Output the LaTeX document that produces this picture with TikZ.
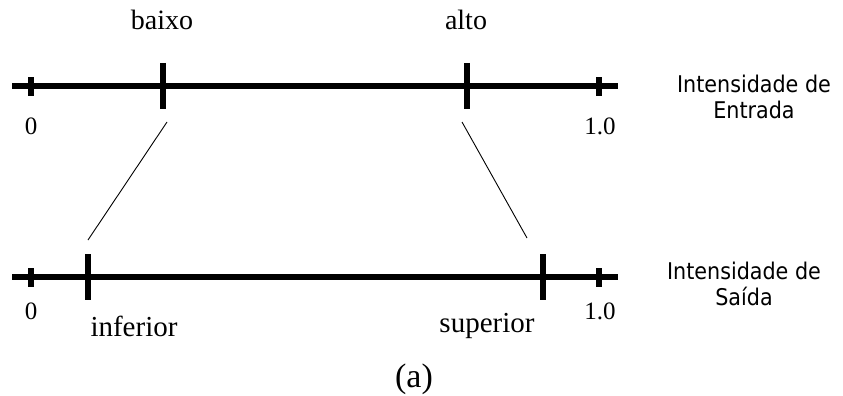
\documentclass[tikz,border=0pt]{standalone}
\usepackage{fontspec}
\setmainfont{Liberation Serif}
\newfontfamily\labsans{DejaVu Sans Condensed}
\begin{document}
\begin{tikzpicture}[x=1pt,y=-1pt,
  axis/.style={line width=5.2pt},
  smalltick/.style={line width=5.2pt},
  bigtick/.style={line width=5.2pt},
  conn/.style={line width=0.9pt},
  wordlab/.style={font=\fontsize{28}{30}\selectfont, inner sep=0pt},
  numlab/.style={font=\fontsize{25}{27}\selectfont, inner sep=0pt},
  sanslab/.style={font=\labsans\fontsize{23}{26}\selectfont, align=center, inner sep=0pt}]
\useasboundingbox (0,0) rectangle (843,396);
% top axis
\coordinate (t0) at (12,86);
\coordinate (t1) at (618,86);
\draw[axis] (t0) -- (t1);
\coordinate (ts0a) at (31,77); \coordinate (ts0b) at (31,96);
\coordinate (ts1a) at (599,77); \coordinate (ts1b) at (599,96);
\draw[smalltick] (ts0a) -- (ts0b);
\draw[smalltick] (ts1a) -- (ts1b);
\coordinate (tla) at (163,63); \coordinate (tlb) at (163,109);
\coordinate (tha) at (467,63); \coordinate (thb) at (467,109);
\draw[bigtick] (tla) -- (tlb);
\draw[bigtick] (tha) -- (thb);
% bottom axis
\coordinate (b0) at (12,277);
\coordinate (b1) at (618,277);
\draw[axis] (b0) -- (b1);
\coordinate (bs0a) at (31,268); \coordinate (bs0b) at (31,287);
\coordinate (bs1a) at (599,268); \coordinate (bs1b) at (599,287);
\draw[smalltick] (bs0a) -- (bs0b);
\draw[smalltick] (bs1a) -- (bs1b);
\coordinate (bla) at (88,254); \coordinate (blb) at (88,300);
\coordinate (bha) at (543,254); \coordinate (bhb) at (543,300);
\draw[bigtick] (bla) -- (blb);
\draw[bigtick] (bha) -- (bhb);
% connectors
\coordinate (cl1) at (167,122); \coordinate (cl2) at (88,240);
\coordinate (cr1) at (462,122); \coordinate (cr2) at (527,238);
\draw[conn] (cl1) -- (cl2);
\draw[conn] (cr1) -- (cr2);
% labels
\node[wordlab] (baixo) at (162,20) {baixo};
\node[wordlab] (alto) at (466,20) {alto};
\node[numlab] (tz) at (31,126) {0};
\node[numlab] (tone) at (600,126) {1.0};
\node[numlab] (bz) at (31,311) {0};
\node[numlab] (bone) at (600,311) {1.0};
\node[wordlab, font=\fontsize{29}{31}\selectfont] (inf) at (134,326) {inferior};
\node[wordlab, font=\fontsize{29}{31}\selectfont] (sup) at (487,326) {superior};
\node[font=\fontsize{34}{36}\selectfont, inner sep=0pt] (a) at (414,379) {(a)};
\node[sanslab] (entrada) at (754,97) {Intensidade de\\Entrada};
\node[sanslab] (saida) at (744,284) {Intensidade de\\Saída};
\end{tikzpicture}
\end{document}
